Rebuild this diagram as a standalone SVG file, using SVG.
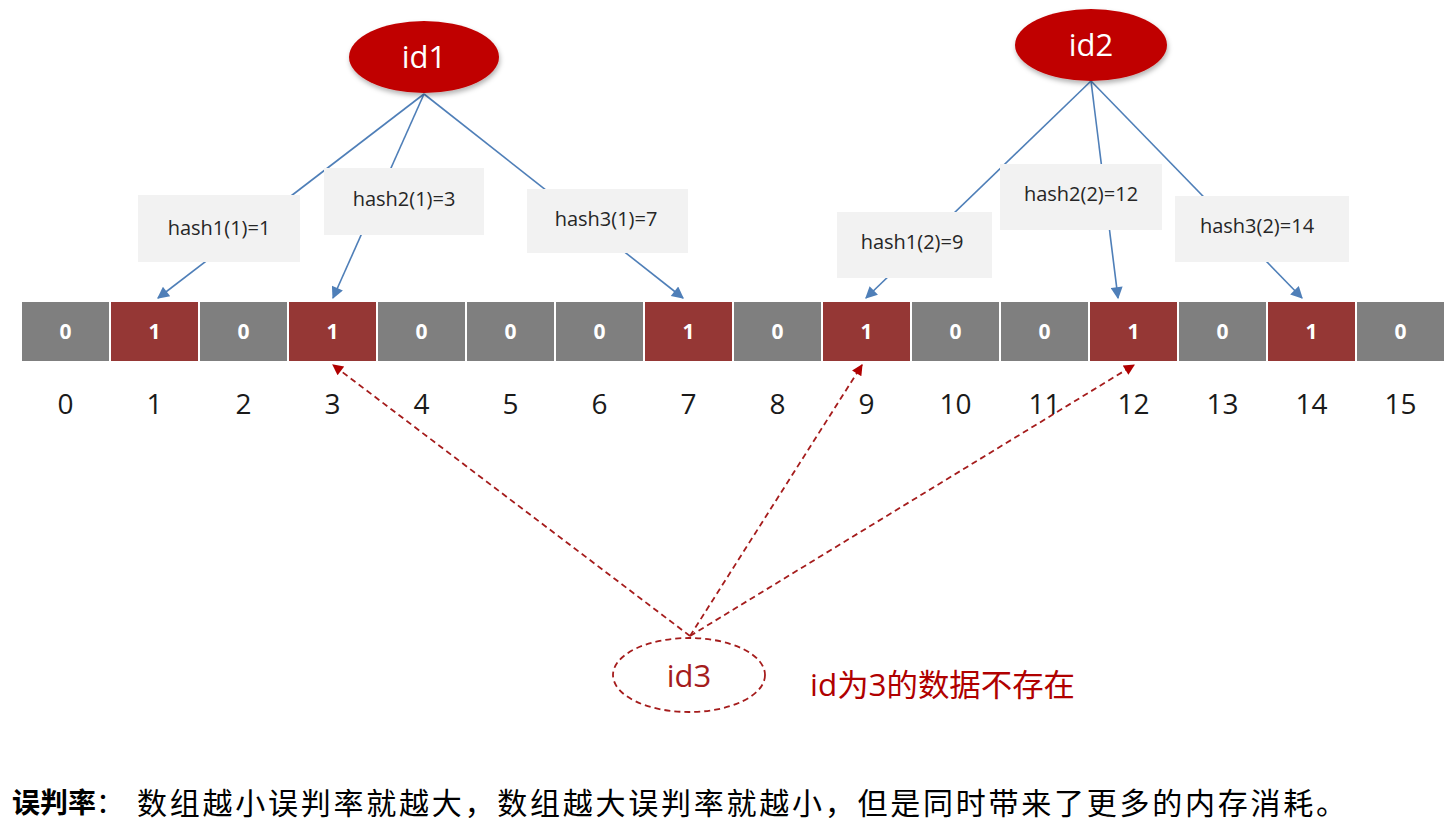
<svg xmlns="http://www.w3.org/2000/svg" width="1454" height="837" viewBox="0 0 1454 837">
<style>
.cell0{fill:#7f7f7f;}
.cell1{fill:#953735;}
.bit{font-family:"Open Sans","Liberation Sans",sans-serif;font-weight:bold;font-size:21px;fill:#ffffff;text-anchor:middle;}
.idx{font-family:"Open Sans","Liberation Sans",sans-serif;font-size:28px;fill:#1a1a1a;text-anchor:middle;}
.hbox{fill:#f2f2f2;}
.hlabel{font-family:"Open Sans","Liberation Sans",sans-serif;font-size:20px;fill:#262626;text-anchor:middle;}
.blue{stroke:#4f7fb8;stroke-width:1.6;fill:none;}
.reddash{stroke:#a51c1c;stroke-width:1.8;fill:none;stroke-dasharray:6 4;}
.idtxt{font-family:"Open Sans","Liberation Sans",sans-serif;font-size:31px;fill:#ffffff;text-anchor:middle;}
.cap{font-family:"Noto Sans CJK SC","Liberation Sans",sans-serif;fill:#000000;}
</style>
<defs>
<marker id="abig" viewBox="0 0 10 10" refX="9" refY="5" markerWidth="14" markerHeight="12" orient="auto" markerUnits="userSpaceOnUse">
<path d="M0,0 L10,5 L0,10 z" fill="#4f7fb8"/>
</marker>
<marker id="ar" viewBox="0 0 10 10" refX="9" refY="5" markerWidth="13" markerHeight="11" orient="auto" markerUnits="userSpaceOnUse">
<path d="M0,0 L10,5 L0,10 z" fill="#b00000"/>
</marker>
<filter id="sh" x="-20%" y="-20%" width="140%" height="150%">
<feDropShadow dx="1" dy="3" stdDeviation="2.5" flood-color="#000000" flood-opacity="0.3"/>
</filter>
</defs>

<g id="connectors">
<line class="blue" x1="424" y1="94" x2="158" y2="298" marker-end="url(#abig)"/>
<line class="blue" x1="424" y1="94" x2="333" y2="298" marker-end="url(#abig)"/>
<line class="blue" x1="424" y1="94" x2="683" y2="298" marker-end="url(#abig)"/>
<line class="blue" x1="1091" y1="81" x2="866" y2="298" marker-end="url(#abig)"/>
<line class="blue" x1="1091" y1="81" x2="1118" y2="298" marker-end="url(#abig)"/>
<line class="blue" x1="1091" y1="81" x2="1302" y2="298" marker-end="url(#abig)"/>
<line class="reddash" x1="690" y1="636" x2="333" y2="365" marker-end="url(#ar)"/>
<line class="reddash" x1="690" y1="636" x2="862" y2="365" marker-end="url(#ar)"/>
<line class="reddash" x1="690" y1="636" x2="1134" y2="365" marker-end="url(#ar)"/>
</g>

<g id="hash1_1"><rect class="hbox" x="138" y="195" width="162" height="67"/><text class="hlabel" x="219" y="235">hash1(1)=1</text></g>
<g id="hash2_1"><rect class="hbox" x="324" y="168" width="160" height="67"/><text class="hlabel" x="404" y="206">hash2(1)=3</text></g>
<g id="hash3_1"><rect class="hbox" x="527" y="189" width="161" height="64"/><text class="hlabel" x="606" y="226">hash3(1)=7</text></g>
<g id="hash1_2"><rect class="hbox" x="837" y="212" width="155" height="66"/><text class="hlabel" x="912" y="249">hash1(2)=9</text></g>
<g id="hash2_2"><rect class="hbox" x="1000" y="164" width="162" height="66"/><text class="hlabel" x="1081" y="201">hash2(2)=12</text></g>
<g id="hash3_2"><rect class="hbox" x="1175" y="196" width="174" height="66"/><text class="hlabel" x="1257" y="233">hash3(2)=14</text></g>

<g id="id1"><ellipse cx="424" cy="57" rx="75" ry="36" fill="#c00000" filter="url(#sh)"/><text class="idtxt" x="424" y="68">id1</text></g>
<g id="id2"><ellipse cx="1091" cy="45" rx="76" ry="36" fill="#c00000" filter="url(#sh)"/><text class="idtxt" x="1091" y="56">id2</text></g>

<g id="array">
<rect class="cell0" x="22" y="302" width="87" height="59"/><text class="bit" x="65.5" y="339">0</text>
<rect class="cell1" x="111" y="302" width="87" height="59"/><text class="bit" x="154.5" y="339">1</text>
<rect class="cell0" x="200" y="302" width="87" height="59"/><text class="bit" x="243.5" y="339">0</text>
<rect class="cell1" x="289" y="302" width="87" height="59"/><text class="bit" x="332.5" y="339">1</text>
<rect class="cell0" x="378" y="302" width="87" height="59"/><text class="bit" x="421.5" y="339">0</text>
<rect class="cell0" x="467" y="302" width="87" height="59"/><text class="bit" x="510.5" y="339">0</text>
<rect class="cell0" x="556" y="302" width="87" height="59"/><text class="bit" x="599.5" y="339">0</text>
<rect class="cell1" x="645" y="302" width="87" height="59"/><text class="bit" x="688.5" y="339">1</text>
<rect class="cell0" x="734" y="302" width="87" height="59"/><text class="bit" x="777.5" y="339">0</text>
<rect class="cell1" x="823" y="302" width="87" height="59"/><text class="bit" x="866.5" y="339">1</text>
<rect class="cell0" x="912" y="302" width="87" height="59"/><text class="bit" x="955.5" y="339">0</text>
<rect class="cell0" x="1001" y="302" width="87" height="59"/><text class="bit" x="1044.5" y="339">0</text>
<rect class="cell1" x="1090" y="302" width="87" height="59"/><text class="bit" x="1133.5" y="339">1</text>
<rect class="cell0" x="1179" y="302" width="87" height="59"/><text class="bit" x="1222.5" y="339">0</text>
<rect class="cell1" x="1268" y="302" width="87" height="59"/><text class="bit" x="1311.5" y="339">1</text>
<rect class="cell0" x="1357" y="302" width="87" height="59"/><text class="bit" x="1400.5" y="339">0</text>
</g>

<g id="indices">
<text class="idx" x="65.5" y="414">0</text>
<text class="idx" x="154.5" y="414">1</text>
<text class="idx" x="243.5" y="414">2</text>
<text class="idx" x="332.5" y="414">3</text>
<text class="idx" x="421.5" y="414">4</text>
<text class="idx" x="510.5" y="414">5</text>
<text class="idx" x="599.5" y="414">6</text>
<text class="idx" x="688.5" y="414">7</text>
<text class="idx" x="777.5" y="414">8</text>
<text class="idx" x="866.5" y="414">9</text>
<text class="idx" x="955.5" y="414">10</text>
<text class="idx" x="1044.5" y="414">11</text>
<text class="idx" x="1133.5" y="414">12</text>
<text class="idx" x="1222.5" y="414">13</text>
<text class="idx" x="1311.5" y="414">14</text>
<text class="idx" x="1400.5" y="414">15</text>
</g>

<g id="id3"><ellipse cx="689" cy="675" rx="76" ry="37" fill="#ffffff" class="reddash"/><text x="689" y="687" font-family="'Open Sans','Liberation Sans',sans-serif" font-size="31" fill="#a51c1c" text-anchor="middle">id3</text></g>

<g id="note"><text x="810" y="696" font-family="'Open Sans','Noto Sans CJK SC',sans-serif" font-size="31" fill="#b00000" textLength="265" lengthAdjust="spacingAndGlyphs">id为3的数据不存在</text></g>

<g id="caption">
<text class="cap" x="12" y="813" font-size="28" font-weight="bold">误判率</text>
<text class="cap" x="96" y="813" font-size="28">：</text>
<text class="cap" x="137" y="814" font-size="30" textLength="1209" lengthAdjust="spacing">数组越小误判率就越大，数组越大误判率就越小，但是同时带来了更多的内存消耗。</text>
</g>
</svg>
